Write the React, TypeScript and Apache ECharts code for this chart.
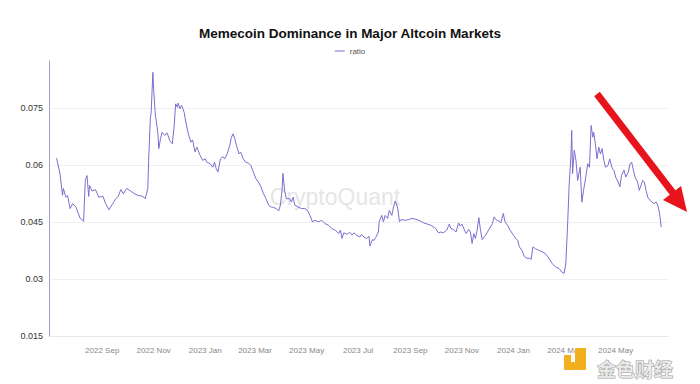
import React, { useEffect, useRef } from "react";
import * as echarts from "echarts";

const dates: string[] = [
  "2022-07-09","2022-07-13","2022-07-16","2022-07-17","2022-07-20","2022-07-22","2022-07-25","2022-07-28",
  "2022-08-01","2022-08-03","2022-08-06","2022-08-09","2022-08-10","2022-08-12","2022-08-14","2022-08-16",
  "2022-08-17","2022-08-20","2022-08-24","2022-08-28","2022-09-02","2022-09-05","2022-09-09","2022-09-13",
  "2022-09-17","2022-09-20","2022-09-23","2022-09-26","2022-09-30","2022-10-06","2022-10-10","2022-10-13",
  "2022-10-19","2022-10-22","2022-10-25","2022-10-26","2022-10-28","2022-10-29","2022-10-31","2022-11-01",
  "2022-11-03","2022-11-04","2022-11-06","2022-11-07","2022-11-09","2022-11-11","2022-11-14","2022-11-17",
  "2022-11-20","2022-11-23","2022-11-25","2022-11-27","2022-11-29","2022-11-30","2022-12-02","2022-12-04",
  "2022-12-07","2022-12-09","2022-12-12","2022-12-15","2022-12-17","2022-12-20","2022-12-22","2022-12-26",
  "2022-12-29","2023-01-01","2023-01-03","2023-01-07","2023-01-10","2023-01-12","2023-01-14","2023-01-16",
  "2023-01-19","2023-01-22","2023-01-24","2023-01-27","2023-01-30","2023-02-01","2023-02-03","2023-02-05",
  "2023-02-07","2023-02-10","2023-02-12","2023-02-15","2023-02-18","2023-02-21","2023-02-24","2023-02-27",
  "2023-03-02","2023-03-05","2023-03-08","2023-03-11","2023-03-14","2023-03-17","2023-03-20","2023-03-23",
  "2023-03-26","2023-03-29","2023-03-31","2023-04-02","2023-04-03","2023-04-05","2023-04-07","2023-04-11",
  "2023-04-13","2023-04-15","2023-04-17","2023-04-21","2023-04-25","2023-04-29","2023-05-02","2023-05-05",
  "2023-05-08","2023-05-11","2023-05-15","2023-05-19","2023-05-23","2023-05-27","2023-05-31","2023-06-04",
  "2023-06-08","2023-06-10","2023-06-12","2023-06-14","2023-06-18","2023-06-21","2023-06-24","2023-06-26",
  "2023-06-29","2023-07-03","2023-07-05","2023-07-08","2023-07-11","2023-07-14","2023-07-15","2023-07-18",
  "2023-07-20","2023-07-22","2023-07-25","2023-07-26","2023-07-29","2023-07-31","2023-08-02","2023-08-05",
  "2023-08-07","2023-08-10","2023-08-12","2023-08-14","2023-08-17","2023-08-19","2023-08-21","2023-08-26",
  "2023-08-30","2023-09-03","2023-09-07","2023-09-13","2023-09-17","2023-09-21","2023-09-25","2023-09-28",
  "2023-10-01","2023-10-04","2023-10-07","2023-10-10","2023-10-14","2023-10-17","2023-10-19","2023-10-22",
  "2023-10-25","2023-10-28","2023-10-30","2023-11-01","2023-11-04","2023-11-06","2023-11-09","2023-11-11",
  "2023-11-13","2023-11-15","2023-11-17","2023-11-19","2023-11-21","2023-11-23","2023-11-25","2023-11-29",
  "2023-12-03","2023-12-07","2023-12-09","2023-12-12","2023-12-15","2023-12-17","2023-12-20","2023-12-22",
  "2023-12-25","2023-12-28","2024-01-01","2024-01-04","2024-01-06","2024-01-08","2024-01-11","2024-01-14",
  "2024-01-17","2024-01-20","2024-01-22","2024-01-24","2024-01-27","2024-01-31","2024-02-04","2024-02-08",
  "2024-02-12","2024-02-16","2024-02-20","2024-02-24","2024-02-27","2024-03-01","2024-03-03","2024-03-05",
  "2024-03-07","2024-03-09","2024-03-10","2024-03-11","2024-03-13","2024-03-15","2024-03-17","2024-03-20",
  "2024-03-22","2024-03-24","2024-03-26","2024-03-29","2024-03-31","2024-04-02","2024-04-04","2024-04-05",
  "2024-04-07","2024-04-09","2024-04-11","2024-04-13","2024-04-15","2024-04-17","2024-04-19","2024-04-22",
  "2024-04-24","2024-04-27","2024-04-29","2024-05-01","2024-05-04","2024-05-06","2024-05-08","2024-05-11",
  "2024-05-13","2024-05-16","2024-05-18","2024-05-20","2024-05-22","2024-05-24","2024-05-27","2024-05-29",
  "2024-05-31","2024-06-02","2024-06-04","2024-06-06","2024-06-08","2024-06-11","2024-06-13","2024-06-15",
  "2024-06-18","2024-06-20","2024-06-22","2024-06-24",
];

const ratio: number[] = [
  0.0619,0.0578,0.0521,0.0539,0.0516,0.052,0.0486,0.0499,
  0.049,0.0477,0.046,0.0455,0.0452,0.056,0.0573,0.0518,
  0.0547,0.0532,0.0536,0.0516,0.0518,0.0499,0.0483,0.0497,
  0.0512,0.0518,0.0536,0.0525,0.0539,0.053,0.0524,0.0521,
  0.0518,0.0512,0.0539,0.0613,0.0723,0.074,0.0845,0.0797,
  0.0731,0.0718,0.0683,0.0644,0.067,0.0687,0.0679,0.0685,
  0.0665,0.0657,0.0698,0.0762,0.0753,0.0764,0.0749,0.0758,
  0.074,0.0714,0.0683,0.0661,0.0667,0.0635,0.0648,0.0626,
  0.0613,0.0617,0.0608,0.0604,0.0595,0.0608,0.0591,0.0582,
  0.0617,0.0623,0.0617,0.063,0.0652,0.0674,0.0683,0.067,
  0.0652,0.063,0.0635,0.0617,0.0608,0.0606,0.06,0.0582,
  0.0565,0.0556,0.0543,0.0525,0.0512,0.0495,0.049,0.0489,
  0.0486,0.048,0.0495,0.0534,0.0579,0.0534,0.0512,0.0512,
  0.0503,0.0516,0.0495,0.049,0.0486,0.0486,0.0481,0.0468,
  0.0451,0.0455,0.0451,0.0455,0.0446,0.0442,0.0433,0.0429,
  0.042,0.0429,0.0407,0.0422,0.0418,0.0424,0.0416,0.0422,
  0.0416,0.0411,0.0418,0.0411,0.0407,0.0413,0.0387,0.0404,
  0.0402,0.041,0.0424,0.0451,0.0468,0.0451,0.0468,0.046,
  0.0481,0.0468,0.049,0.0506,0.0486,0.0451,0.0457,0.0455,
  0.0457,0.046,0.0458,0.0453,0.0448,0.0445,0.0442,0.0438,
  0.0433,0.0422,0.0424,0.0422,0.0429,0.0445,0.0433,0.0431,
  0.0424,0.0448,0.044,0.0445,0.0429,0.042,0.0431,0.0424,
  0.0394,0.042,0.0407,0.0429,0.0462,0.0429,0.0404,0.0416,
  0.0431,0.0446,0.0464,0.0455,0.0453,0.0448,0.0473,0.0451,
  0.0442,0.0429,0.0416,0.0407,0.0402,0.0385,0.0376,0.0359,
  0.0355,0.0355,0.0352,0.0385,0.038,0.0376,0.0372,0.0367,
  0.0355,0.0341,0.0332,0.0328,0.0319,0.0315,0.0341,0.0437,
  0.0551,0.0622,0.0692,0.0578,0.064,0.0613,0.056,0.0595,
  0.0503,0.0534,0.056,0.0604,0.0595,0.0705,0.0674,0.0687,
  0.0657,0.0617,0.0648,0.063,0.0644,0.0613,0.0595,0.06,
  0.0617,0.0591,0.0587,0.0569,0.0556,0.0543,0.0574,0.0587,
  0.0569,0.0582,0.0604,0.0608,0.0587,0.0569,0.0556,0.0534,
  0.0547,0.056,0.0556,0.0534,0.0516,0.0507,0.0503,0.0499,
  0.0503,0.0495,0.0473,0.0437,
];

const xTickDates: string[] = [
  "2022-09-01","2022-11-01","2023-01-01","2023-03-01","2023-05-01","2023-07-01",
  "2023-09-01","2023-11-01","2024-01-01","2024-03-01","2024-05-01",
];
const xTickLabels: string[] = [
  "2022 Sep","2022 Nov","2023 Jan","2023 Mar","2023 May","2023 Jul",
  "2023 Sep","2023 Nov","2024 Jan","2024 Mar","2024 May",
];

const toTs = (s: string) => {
  const [y, m, d] = s.split("-").map(Number);
  return Date.UTC(y, m - 1, d);
};

export default function App() {
  const ref = useRef<HTMLDivElement>(null);
  useEffect(() => {
    if (!ref.current) return;
    const chart = echarts.init(ref.current, undefined, { renderer: "svg" });
    const tickTs = xTickDates.map(toTs);
    const font = "Liberation Sans, Arial, sans-serif";
    chart.setOption({
      animation: false,
      backgroundColor: "#ffffff",
      title: {
        text: "Memecoin Dominance in Major Altcoin Markets",
        left: "center",
        top: 21,
        textStyle: { fontSize: 13.5, fontWeight: "bold", color: "#111", fontFamily: font },
      },
      legend: {
        top: 42,
        left: "center",
        icon: "rect",
        itemWidth: 10,
        itemHeight: 1,
        itemGap: 4,
        textStyle: { fontSize: 8, color: "#555", fontFamily: font },
        data: ["ratio"],
      },
      grid: { left: 49, right: 32, top: 61, bottom: 48 },
      xAxis: {
        type: "value",
        min: toTs("2022-06-30"),
        max: toTs("2024-07-02"),
        axisLine: { show: true, lineStyle: { color: "#e8e8e8" } },
        axisTick: { show: false },
        splitLine: { show: false },
        axisLabel: {
          customValues: tickTs,
          fontSize: 8,
          color: "#888",
          margin: 10,
          fontFamily: font,
          formatter: (v: number) => {
            const i = tickTs.indexOf(v);
            return i >= 0 ? xTickLabels[i] : "";
          },
        },
      },
      yAxis: {
        type: "value",
        min: 0.015,
        max: 0.0875,
        interval: 0.015,
        axisLine: { show: true, lineStyle: { color: "#a3a3c9", width: 1 } },
        axisTick: { show: false },
        splitLine: { show: true, showMaxLine: false, lineStyle: { color: "#f0f0f0" } },
        axisLabel: {
          showMaxLabel: false,
          fontSize: 9,
          color: "#333",
          margin: 6,
          fontFamily: font,
        },
      },
      series: [
        {
          name: "ratio",
          type: "line",
          showSymbol: false,
          symbol: "none",
          data: dates.map((d, i) => [toTs(d), ratio[i]]),
          lineStyle: { color: "#7a6fcf", width: 1 },
          itemStyle: { color: "#7a6fcf" },
          z: 3,
        },
      ],
      graphic: [
        {
          type: "text",
          x: 335,
          y: 197,
          z: 0,
          style: {
            text: "CryptoQuant",
            fontSize: 23,
            fontFamily: font,
            fill: "#e6e6e6",
            align: "center",
            verticalAlign: "middle",
          },
        },
        {
          type: "line",
          z: 100,
          shape: { x1: 597, y1: 94, x2: 673, y2: 193 },
          style: { stroke: "#e8141b", lineWidth: 7 },
        },
        {
          type: "polygon",
          z: 100,
          shape: { points: [[687, 212], [681, 186], [663, 200]] },
          style: { fill: "#e8141b" },
        },
        {
          type: "rect",
          z: 100,
          shape: { x: 575, y: 348, width: 11, height: 22, r: 1 },
          style: { fill: "#f2b01e" },
        },
        {
          type: "rect",
          z: 100,
          shape: { x: 564, y: 362, width: 22, height: 8, r: 1 },
          style: { fill: "#f2b01e" },
        },
        {
          type: "rect",
          z: 100,
          shape: { x: 564, y: 355, width: 7, height: 8 },
          style: { fill: "#f2b01e" },
        },
        {
          type: "text",
          z: 101,
          x: 597,
          y: 368,
          style: {
            text: "金色财经",
            fontSize: 19,
            fontWeight: "bold",
            fontFamily: "Noto Sans CJK SC",
            fill: "rgba(235,235,235,0.9)",
            stroke: "#9a9a9a",
            lineWidth: 1,
            verticalAlign: "middle",
          },
        },
      ],
    });
    return () => chart.dispose();
  }, []);
  return (
    <div
      ref={ref}
      style={{ position: "absolute", left: 0, top: 0, width: 700, height: 384 }}
    />
  );
}
